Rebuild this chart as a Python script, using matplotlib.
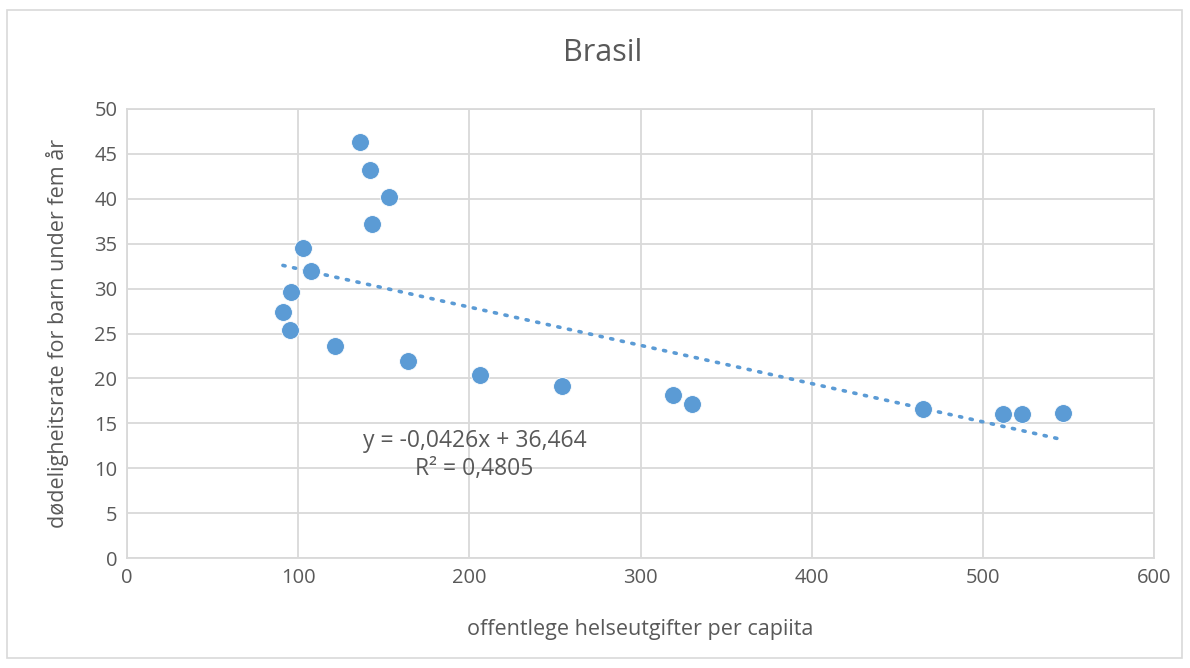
import matplotlib
matplotlib.use("Agg")
import matplotlib.pyplot as plt
import numpy as np
from matplotlib.patches import Rectangle

spending = [136.1, 142.0, 153.1, 143.1, 102.8, 107.5, 95.8, 91.1, 95.2, 121.5,
            164.2, 206.2, 254.1, 319.0, 330.1, 465.0, 511.8, 522.9, 546.8]
mortality = [46.3, 43.2, 40.2, 37.2, 34.5, 32.0, 29.6, 27.4, 25.4, 23.6,
             21.9, 20.4, 19.2, 18.1, 17.2, 16.6, 16.0, 16.0, 16.2]
slope = -0.0426
intercept = 36.464
title = "Brasil"
xlabel = "offentlege helseutgifter per capiita"
ylabel = "dødeligheitsrate for barn under fem år"
eq_text = "y = -0,0426x + 36,464\nR² = 0,4805"

plt.rcParams['font.family'] = ['Open Sans', 'DejaVu Sans']
txt = '#595959'
grid = '#d9d9d9'
blue = '#5b9bd5'

fig = plt.figure(figsize=(11.9, 6.68), dpi=100)
fig.patches.append(Rectangle((7/1190, 1-658/668), 1175/1190, 648/668, transform=fig.transFigure,
                             fill=False, edgecolor=grid, linewidth=1.2, zorder=-1))
ax = fig.add_axes([127/1190, 1-558/668, 1027/1190, 449/668])
ax.set_xlim(0, 600)
ax.set_ylim(0, 50)
ax.set_xticks(np.arange(0, 601, 100))
ax.set_yticks(np.arange(0, 51, 5))
ax.grid(True, color=grid, linewidth=1.3)
ax.set_axisbelow(True)
for s in ax.spines.values():
    s.set_color(grid)
    s.set_linewidth(1.3)
ax.tick_params(length=0, colors=txt, labelsize=14.5, pad=7)

ax.scatter(spending, mortality, s=165, color=blue, edgecolors='white', linewidths=0.6, zorder=3)
xs = np.array([min(spending), max(spending)])
ax.plot(xs, slope * xs + intercept, linestyle=(0, (0.6, 2.4)), color=blue, linewidth=2.6,
        dash_capstyle='round', zorder=2)

ax.text(203, 11.5, eq_text, ha='center', va='center', fontsize=16.5, color=txt, linespacing=1.2)

fig.text(603/1190, 1-53/668, title, ha='center', va='center', fontsize=22, color=txt)
fig.text(640/1190, 1-629/668, xlabel, ha='center', va='center', fontsize=15.5, color=txt)
fig.text(58/1190, 1-333/668, ylabel, ha='center', va='center', fontsize=15.5, color=txt, rotation=90)

fig.savefig("out.png", dpi=100, facecolor='white')
